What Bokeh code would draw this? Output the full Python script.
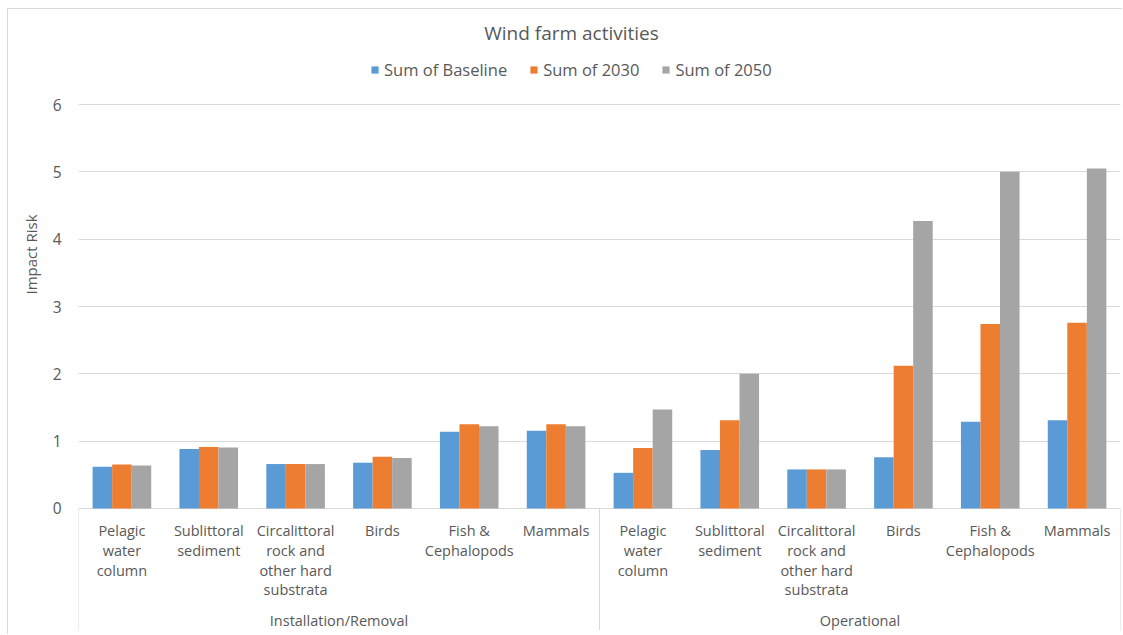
import numpy as np
from bokeh.plotting import figure
from bokeh.models import (Range1d, FixedTicker, Legend, LegendItem,
                          ColumnDataSource, Title)
from bokeh.core.properties import value
from bokeh.embed import file_html
from bokeh.resources import INLINE

# ---------------- data ----------------
groups = ["Installation/Removal", "Operational"]
categories = ["Pelagic\nwater\ncolumn", "Sublittoral\nsediment",
              "Circalittoral\nrock and\nother hard\nsubstrata", "Birds",
              "Fish &\nCephalopods", "Mammals"]
series_names = ["Sum of Baseline", "Sum of 2030", "Sum of 2050"]
baseline = [0.62, 0.885, 0.66, 0.68, 1.14, 1.155, 0.53, 0.87, 0.58, 0.76, 1.29, 1.31]
y2030 = [0.655, 0.915, 0.66, 0.77, 1.25, 1.25, 0.90, 1.31, 0.58, 2.12, 2.74, 2.76]
y2050 = [0.64, 0.905, 0.66, 0.75, 1.22, 1.22, 1.47, 2.00, 0.58, 4.27, 5.00, 5.05]
y_ticks = [0, 1, 2, 3, 4, 5, 6]
colors = ["#5B9BD5", "#ED7D31", "#A5A5A5"]

FONT = "Open Sans"
TXT = "#595959"
GRID = "#D9D9D9"

n_cat = len(categories) * len(groups)
centers = np.arange(n_cat) + 0.5
bar_w = 0.225

px_y = 67.33   # pixels per y unit
px_x = 86.83   # pixels per category
y_lo = -1.812
y_hi = 7.411

p = figure(width=1115, height=626, output_backend="svg", toolbar_location=None,
           x_axis_location=None,
           x_range=Range1d(0, n_cat), y_range=Range1d(y_lo, y_hi),
           min_border_left=70, min_border_right=3, min_border_top=0,
           min_border_bottom=5)
p.margin = (8, 0, 0, 7)
p.styles = {"border-left": "1px solid #D9D9D9", "border-top": "1px solid #D9D9D9"}
p.outline_line_color = None
p.background_fill_color = "white"
p.border_fill_color = "white"

p.xgrid.visible = False
p.ygrid.ticker = FixedTicker(ticks=y_ticks)
p.ygrid.grid_line_color = GRID
p.ygrid.grid_line_width = 1

ya = p.yaxis[0]
ya.ticker = FixedTicker(ticks=y_ticks)
ya.axis_line_color = None
ya.major_tick_line_color = None
ya.minor_tick_line_color = None
ya.major_tick_out = 0
ya.major_tick_in = 0
ya.minor_tick_out = 0
ya.major_label_text_font = FONT
ya.major_label_text_font_size = "15.5px"
ya.major_label_text_color = TXT
ya.major_label_standoff = 17

# y axis title on the left side
ytitle = Title(text="Impact Risk", align="left", offset=336,
               text_font=FONT, text_font_size="15px", text_font_style="normal",
               text_color=TXT, standoff=17)
p.add_layout(ytitle, "left")

renderers = []
for k, (vals, col) in enumerate(zip([baseline, y2030, y2050], colors)):
    src = ColumnDataSource(dict(x=centers + (k - 1) * bar_w, top=vals))
    r = p.vbar(x="x", top="top", width=bar_w, bottom=0, source=src,
               fill_color=col, line_color=None)
    renderers.append(r)

# separators under the axis
sep_x = [0, len(categories), n_cat]
p.segment(x0=sep_x, x1=sep_x, y0=[0] * 3, y1=[y_lo] * 3,
          line_color=GRID, line_width=1)

# category labels (one text item per line)
lx, ly, lt, loff = [], [], [], []
for gi in range(len(groups)):
    for ci, cat in enumerate(categories):
        for li, line in enumerate(cat.split("\n")):
            lx.append(centers[gi * len(categories) + ci])
            ly.append(-22 / px_y)
            lt.append(line)
            loff.append(li * 19.8)
p.text(x=lx, y=ly, text=lt, y_offset=loff, text_align="center",
       text_baseline="middle", text_font=value(FONT),
       text_font_size="14.5px", text_color=TXT)

# group labels
gx = [len(categories) * (g + 0.5) for g in range(len(groups))]
p.text(x=gx, y=[-112 / px_y] * len(groups), text=groups, text_align="center",
       text_baseline="middle", text_font=value(FONT),
       text_font_size="14.5px", text_color=TXT)

# chart title
p.text(x=[(571 - 78) / px_x], y=[(508 - 33) / px_y], text=["Wind farm activities"],
       text_align="center", text_baseline="middle", text_font=value(FONT),
       text_font_size="19px", text_color=TXT)

legend = Legend(items=[LegendItem(label=n, renderers=[r])
                       for n, r in zip(series_names, renderers)],
                orientation="horizontal", location=(292, 549),
                glyph_width=9, glyph_height=9, label_standoff=5, spacing=22,
                padding=0, margin=0, border_line_color=None,
                background_fill_alpha=0,
                label_text_font=FONT, label_text_font_size="16.5px",
                label_text_color=TXT)
p.add_layout(legend)

open("out.html", "w").write(file_html(p, INLINE))
